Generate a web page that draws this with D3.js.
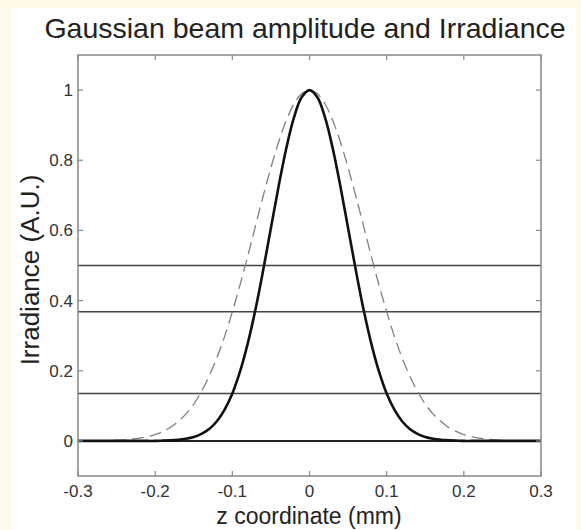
<!DOCTYPE html>
<html>
<head>
<meta charset="utf-8">
<script src="https://cdn.jsdelivr.net/npm/d3@7"></script>
<style>
  html, body { margin: 0; padding: 0; background: #fffbea; }
  svg { display: block; }
  text { font-family: "Liberation Sans", Arial, sans-serif; fill: #222; }
</style>
</head>
<body>
<svg id="chart" width="581" height="530"></svg>
<script>
// ---- data ----
const zValues = [-0.30,-0.29,-0.28,-0.27,-0.26,-0.25,-0.24,-0.23,-0.22,-0.21,-0.20,-0.19,-0.18,-0.17,-0.16,-0.15,-0.14,-0.13,-0.12,-0.11,-0.10,-0.09,-0.08,-0.07,-0.06,-0.05,-0.04,-0.03,-0.02,-0.01,0.00,0.01,0.02,0.03,0.04,0.05,0.06,0.07,0.08,0.09,0.10,0.11,0.12,0.13,0.14,0.15,0.16,0.17,0.18,0.19,0.20,0.21,0.22,0.23,0.24,0.25,0.26,0.27,0.28,0.29,0.30];
const irradiance = [0,0,0,0,0,0,0,0,0,0,0,0.001,0.002,0.003,0.006,0.011,0.020,0.034,0.056,0.089,0.135,0.198,0.278,0.375,0.487,0.607,0.726,0.835,0.923,0.980,1.000,0.980,0.923,0.835,0.726,0.607,0.487,0.375,0.278,0.198,0.135,0.089,0.056,0.034,0.020,0.011,0.006,0.003,0.002,0.001,0,0,0,0,0,0,0,0,0,0,0];
const amplitude = [0,0,0,0.001,0.001,0.002,0.003,0.005,0.008,0.012,0.018,0.027,0.039,0.056,0.077,0.105,0.141,0.185,0.237,0.298,0.368,0.445,0.527,0.613,0.698,0.779,0.852,0.914,0.961,0.990,1.000,0.990,0.961,0.914,0.852,0.779,0.698,0.613,0.527,0.445,0.368,0.298,0.237,0.185,0.141,0.105,0.077,0.056,0.039,0.027,0.018,0.012,0.008,0.005,0.003,0.002,0.001,0.001,0,0,0];
const levelLines = [0.5, 0.368, 0.135, 0];
const xTicks = [-0.3,-0.2,-0.1,0,0.1,0.2,0.3];
const yTicks = [0,0.2,0.4,0.6,0.8,1];
const xTickLabels = ["-0.3","-0.2","-0.1","0","0.1","0.2","0.3"];
const yTickLabels = ["0","0.2","0.4","0.6","0.8","1"];
const titleText = "Gaussian beam amplitude and Irradiance";
const xLabelText = "z coordinate (mm)";
const yLabelText = "Irradiance (A.U.)";

// ---- layout ----
const svg = d3.select("#chart");
const W = 581, H = 530;
const mLeft = 78, mRight = 541, mTop = 55, mBottom = 476;

svg.append("rect").attr("x", 11).attr("y", 8).attr("width", W - 11 - 5).attr("height", H - 8)
  .attr("fill", "#ffffff");

const x = d3.scaleLinear().domain([-0.3, 0.3]).range([mLeft, mRight]);
const y = d3.scaleLinear().domain([-0.1, 1.1]).range([mBottom, mTop]);

// level lines
svg.append("g").selectAll("line").data(levelLines).join("line")
  .attr("x1", mLeft).attr("x2", mRight)
  .attr("y1", d => y(d)).attr("y2", d => y(d))
  .attr("stroke", d => d === 0 ? "#222" : "#444")
  .attr("stroke-width", d => d === 0 ? 2 : 1.6);

const pts = zValues.map((z, i) => ({z, a: amplitude[i], irr: irradiance[i]}));

// amplitude (dashed)
svg.append("path").datum(pts)
  .attr("fill", "none").attr("stroke", "#808080").attr("stroke-width", 1.3)
  .attr("stroke-dasharray", "12,6")
  .attr("d", d3.line().x(d => x(d.z)).y(d => y(d.a)).curve(d3.curveCatmullRom));

// irradiance (solid)
svg.append("path").datum(pts)
  .attr("fill", "none").attr("stroke", "#111").attr("stroke-width", 2.6)
  .attr("d", d3.line().x(d => x(d.z)).y(d => y(d.irr)).curve(d3.curveCatmullRom));

// axes box
svg.append("rect").attr("x", mLeft).attr("y", mTop).attr("width", mRight - mLeft).attr("height", mBottom - mTop)
  .attr("fill", "none").attr("stroke", "#888").attr("stroke-width", 1.5);

const tickLen = 5;
const tickColor = "#888";
// x ticks (inside, bottom and top)
const gx = svg.append("g");
gx.selectAll("line.b").data(xTicks).join("line").attr("class", "b")
  .attr("x1", d => x(d)).attr("x2", d => x(d)).attr("y1", mBottom).attr("y2", mBottom - tickLen)
  .attr("stroke", tickColor).attr("stroke-width", 1.2);
gx.selectAll("line.t").data(xTicks).join("line").attr("class", "t")
  .attr("x1", d => x(d)).attr("x2", d => x(d)).attr("y1", mTop).attr("y2", mTop + tickLen)
  .attr("stroke", tickColor).attr("stroke-width", 1.2);
gx.selectAll("text").data(xTicks).join("text")
  .attr("x", d => x(d)).attr("y", mBottom + 21)
  .attr("text-anchor", "middle").attr("font-size", 17).style("fill", "#333")
  .text((d, i) => xTickLabels[i]);

// y ticks (inside, left and right)
const gy = svg.append("g");
gy.selectAll("line.l").data(yTicks).join("line").attr("class", "l")
  .attr("x1", mLeft).attr("x2", mLeft + tickLen).attr("y1", d => y(d)).attr("y2", d => y(d))
  .attr("stroke", tickColor).attr("stroke-width", 1.2);
gy.selectAll("line.r").data(yTicks).join("line").attr("class", "r")
  .attr("x1", mRight).attr("x2", mRight - tickLen).attr("y1", d => y(d)).attr("y2", d => y(d))
  .attr("stroke", tickColor).attr("stroke-width", 1.2);
gy.selectAll("text").data(yTicks).join("text")
  .attr("x", mLeft - 5).attr("y", d => y(d) + 6)
  .attr("text-anchor", "end").attr("font-size", 17).style("fill", "#333")
  .text((d, i) => yTickLabels[i]);

// title and labels
svg.append("text").attr("x", 305).attr("y", 38).attr("text-anchor", "middle")
  .attr("font-size", 28.5).text(titleText);
svg.append("text").attr("x", 309).attr("y", 524).attr("text-anchor", "middle")
  .attr("font-size", 23).text(xLabelText);
svg.append("text").attr("transform", "translate(39,270) rotate(-90)").attr("text-anchor", "middle")
  .attr("font-size", 26).text(yLabelText);
</script>
</body>
</html>
